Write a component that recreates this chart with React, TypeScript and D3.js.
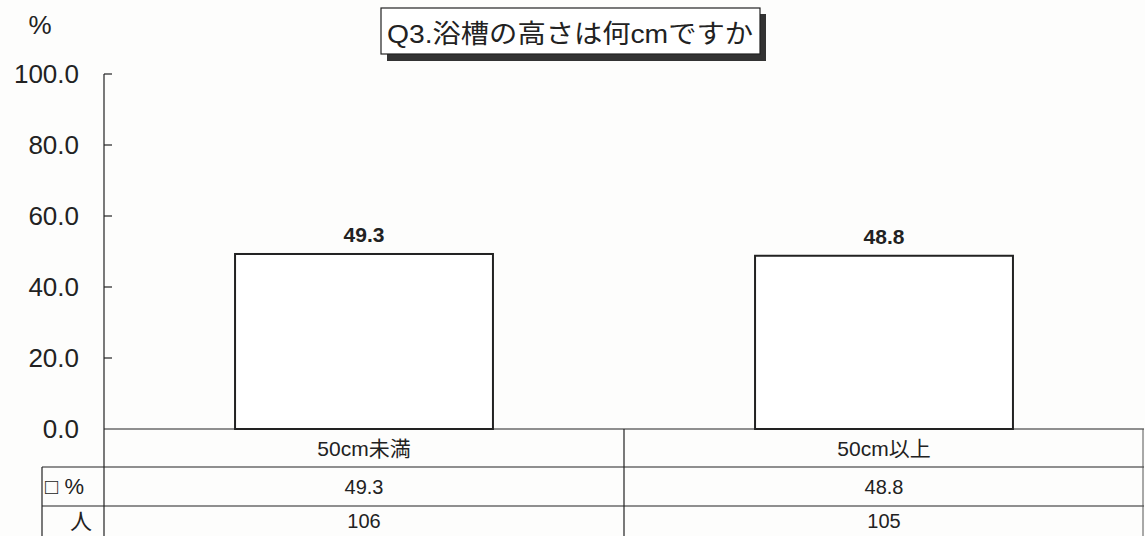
import React from 'react'
import * as d3 from 'd3'

const W = 1145
const H = 536

const TITLE = 'Q3.浴槽の高さは何cmですか'
const CATEGORIES = ['50cm未満', '50cm以上']
const PERCENTS = [49.3, 48.8]
const COUNTS = [106, 105]
const Y_TICKS = [0, 20, 40, 60, 80, 100]
const ROW_LABELS = ['□ %', '人']

const FONT = "'Liberation Sans', Arial, 'Noto Sans CJK JP', sans-serif"
const INK = '#222'

const PLOT = { left: 104, right: 1144, top: 74, bottom: 429 }
const TABLE = { left: 42, row1: 467, row2: 506, lastRowY: 521 }

export default function App() {
  const y = d3.scaleLinear().domain([0, 100]).range([PLOT.bottom, PLOT.top])
  const x = d3.scaleBand<string>().domain(CATEGORIES).range([PLOT.left, PLOT.right])
  const bw = x.bandwidth() * 0.496

  return (
    <div style={{ position: 'absolute', left: 0, top: 0, background: '#fff' }}>
      <svg width={W} height={H} style={{ display: 'block', fontFamily: FONT }}>
        <rect x={0} y={0} width={W} height={H} fill="#fdfdfc" />

        {/* title box with shadow */}
        <rect x={387} y={14} width={379} height={47} fill="#333" />
        <rect x={381} y={8} width={379} height={46} fill="#fff" stroke={INK} strokeWidth={1.2} />
        <text x={387} y={43} fontSize={26} fill={INK} textLength={366} lengthAdjust="spacingAndGlyphs">
          {TITLE}
        </text>

        <text x={40} y={34} fontSize={26} fill={INK} textAnchor="middle">%</text>

        {/* y axis */}
        <line x1={PLOT.left} x2={PLOT.left} y1={y(100)} y2={H} stroke={INK} strokeWidth={1.2} />
        {Y_TICKS.map(t => (
          <g key={t}>
            {t > 0 && <line x1={PLOT.left} x2={PLOT.left + 8} y1={y(t)} y2={y(t)} stroke={INK} strokeWidth={1.2} />}
            <text x={79} y={y(t)} dy="0.36em" fontSize={26} fill={INK} textAnchor="end">
              {t.toFixed(1)}
            </text>
          </g>
        ))}

        {/* bars */}
        {CATEGORIES.map((c, i) => {
          const cx = (x(c) as number) + x.bandwidth() / 2
          return (
            <g key={c}>
              <rect
                x={cx - bw / 2} y={y(PERCENTS[i])}
                width={bw} height={y(0) - y(PERCENTS[i])}
                fill="#fff" stroke={INK} strokeWidth={2}
              />
              <text x={cx} y={y(PERCENTS[i]) - 12} fontSize={21} fontWeight="bold" fill={INK} textAnchor="middle">
                {PERCENTS[i].toFixed(1)}
              </text>
            </g>
          )
        })}

        {/* data table */}
        <line x1={PLOT.left} x2={PLOT.right} y1={y(0)} y2={y(0)} stroke={INK} strokeWidth={1.2} />
        <line x1={TABLE.left} x2={PLOT.right} y1={TABLE.row1} y2={TABLE.row1} stroke={INK} strokeWidth={1.2} />
        <line x1={TABLE.left} x2={PLOT.right} y1={TABLE.row2} y2={TABLE.row2} stroke={INK} strokeWidth={1.2} />
        <line x1={TABLE.left} x2={TABLE.left} y1={TABLE.row1} y2={H} stroke={INK} strokeWidth={1.2} />
        <line x1={PLOT.right - 1} x2={PLOT.right - 1} y1={y(0)} y2={H} stroke="#555" strokeWidth={1} />
        {CATEGORIES.slice(1).map(c => (
          <line key={c} x1={x(c)} x2={x(c)} y1={y(0)} y2={H} stroke={INK} strokeWidth={1.2} />
        ))}

        <text x={TABLE.left + 3} y={(TABLE.row1 + TABLE.row2) / 2} dy="0.36em" fontSize={22} fill={INK}>
          {ROW_LABELS[0]}
        </text>
        <text x={81} y={TABLE.lastRowY} dy="0.36em" fontSize={22} fill={INK} textAnchor="middle">
          {ROW_LABELS[1]}
        </text>

        {CATEGORIES.map((c, i) => {
          const cx = (x(c) as number) + x.bandwidth() / 2
          return (
            <g key={c} fontSize={20} fill={INK} textAnchor="middle">
              <text x={cx} y={(y(0) + TABLE.row1) / 2} dy="0.36em" fontSize={21}>{c}</text>
              <text x={cx} y={(TABLE.row1 + TABLE.row2) / 2} dy="0.36em">{PERCENTS[i].toFixed(1)}</text>
              <text x={cx} y={TABLE.lastRowY} dy="0.36em">{COUNTS[i]}</text>
            </g>
          )
        })}
      </svg>
    </div>
  )
}
